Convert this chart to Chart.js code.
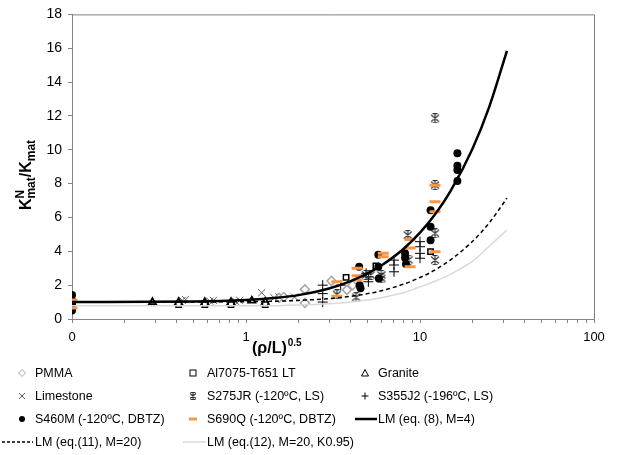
<!DOCTYPE html>
<html><head><meta charset="utf-8">
<script src="https://cdn.jsdelivr.net/npm/chart.js@4/dist/chart.umd.min.js"></script>
<style>html,body{margin:0;padding:0;background:#fff}canvas{display:block}</style>
</head><body>
<canvas id="c" width="618" height="455"></canvas>
<script>
// ---- data ----
const xTickValues = [0.1,0.2,0.3,0.4,0.5,0.6,0.7,0.8,0.9,1,2,3,4,5,6,7,8,9,10,20,30,40,50,60,70,80,90,100];
const xTickLabels = {"0.1":"0","1":"1","10":"10","100":"100"};

const pmmaX = [1.55, 1.65, 2.18, 2.18, 3.1, 3.8, 4.1];
const pmmaY = [1.25, 1.3, 1.75, 0.95, 2.25, 1.72, 2.0];

const alX = [0.41, 0.58, 0.82, 1.29, 3.76, 5.58, 11.5];
const alY = [0.85, 0.85, 0.85, 0.85, 2.46, 3.13, 3.98];

const graniteX = [0.29, 0.41, 0.58, 0.82, 1.08, 1.29];
const graniteY = [1.0, 1.0, 1.0, 1.0, 1.08, 1.02];

const limeX = [0.43, 0.45, 0.62, 0.65, 0.87, 0.92, 1.23, 1.45, 1.55, 1.63, 1.9];
const limeY = [1.1, 1.15, 1.05, 1.1, 1.05, 1.1, 1.55, 1.25, 1.3, 1.25, 1.3];

const s275X = [3.33, 4.3, 4.9, 5.2, 6.0, 6.0, 8.5, 8.6, 12.2, 12.2, 12.2, 12.2];
const s275Y = [1.45, 1.28, 2.6, 2.6, 2.6, 2.4, 4.96, 3.5, 11.86, 7.91, 5.06, 3.48];

const s355X = [2.76, 2.76, 2.76, 3.5, 4.9, 5.05, 5.05, 7.09, 7.09, 7.09, 10, 10, 10, 10];
const s355Y = [2.0, 1.5, 1.0, 2.0, 2.7, 2.5, 2.2, 3.48, 3.19, 2.79, 4.57, 4.27, 3.88, 3.59];

const s460X = [0.1, 0.1, 0.1, 0.1, 4.47, 4.5, 4.55, 5.76, 5.76, 5.8, 8.2, 8.2, 8.3, 11.5, 11.5, 11.5, 16.4, 16.4, 16.4, 16.4];
const s460Y = [1.42, 1.1, 0.85, 0.5, 3.09, 2.0, 1.81, 3.8, 3.09, 2.4, 3.88, 3.62, 3.25, 6.42, 5.45, 4.65, 9.79, 9.06, 8.8, 8.15];

const s690X = [0.1, 0.1, 3.33, 3.33, 4.35, 4.35, 4.35, 6.15, 6.15, 8.77, 8.77, 8.77, 12.2, 12.2, 12.2, 12.2];
const s690Y = [1.12, 0.65, 2.2, 1.35, 3.0, 2.55, 2.3, 3.88, 3.68, 4.7, 4.2, 3.09, 7.9, 6.93, 6.34, 3.97];

const lmX   = [0.1, 0.5, 1, 1.5, 2, 3, 4, 5, 6, 8, 10, 12, 15, 20, 25, 31.6];
const lm8Y  = [1.0, 1.03, 1.12, 1.25, 1.41, 1.80, 2.24, 2.69, 3.16, 4.12, 5.10, 6.08, 7.57, 10.05, 12.54, 15.85];
const lm11Y = [1.0, 1.01, 1.02, 1.05, 1.10, 1.20, 1.34, 1.50, 1.67, 2.05, 2.45, 2.86, 3.50, 4.58, 5.68, 7.14];
const lm12Y = [0.78, 0.78, 0.78, 0.79, 0.82, 0.9, 1.0, 1.12, 1.26, 1.55, 1.9, 2.2, 2.65, 3.4, 4.3, 5.26];

const seriesNames = ["PMMA","Al7075-T651 LT","Granite","Limestone","S275JR (-120ºC, LS)","S355J2 (-196ºC, LS)",
  "S460M (-120ºC, DBTZ)","S690Q (-120ºC, DBTZ)","LM (eq. (8), M=4)","LM (eq.(11), M=20)","LM (eq.(12), M=20, K0.95)"];

// ---- helpers ----
const pts = (xs, ys) => xs.map((x, i) => ({x, y: ys[i]}));
const FONT = "'Liberation Sans', Arial, sans-serif";

function starCanvas(size, color){
  const c = document.createElement('canvas');
  c.width = size; c.height = size;
  const g = c.getContext('2d');
  g.strokeStyle = color; g.lineWidth = 1.1;
  const s = size, m = s/2;
  g.beginPath();
  g.moveTo(1,1.5); g.lineTo(s-1,s-1.5);
  g.moveTo(s-1,1.5); g.lineTo(1,s-1.5);
  g.moveTo(m,0.5); g.lineTo(m,s-0.5);
  g.moveTo(m-2.5,0.5); g.lineTo(m+2.5,0.5);
  g.moveTo(m-2.5,s-0.5); g.lineTo(m+2.5,s-0.5);
  g.stroke();
  return c;
}
const starImg = starCanvas(10, '#333333');
const starImgSmall = starCanvas(8, '#333333');

const ORANGE = '#f79646';

const datasets = [
  {label: seriesNames[8], data: pts(lmX, lm8Y), showLine: true, borderColor: '#000', borderWidth: 2.5, pointRadius: 0, cubicInterpolationMode: 'monotone', order: 0},
  {label: seriesNames[9], data: pts(lmX, lm11Y), showLine: true, borderColor: '#000', borderWidth: 1.5, borderDash: [4,3], pointRadius: 0, cubicInterpolationMode: 'monotone', order: 1},
  {label: seriesNames[10], data: pts(lmX, lm12Y), showLine: true, borderColor: '#d9d9d9', borderWidth: 1.5, pointRadius: 0, cubicInterpolationMode: 'monotone', order: 2},
  {label: seriesNames[0], data: pts(pmmaX, pmmaY), pointStyle: 'rectRot', pointRadius: 4.5, borderColor: '#a6a6a6', backgroundColor: '#fff', borderWidth: 1.5, order: 5},
  {label: seriesNames[1], data: pts(alX, alY), pointStyle: 'rect', pointRadius: 3.8, borderColor: '#000', backgroundColor: '#fff', borderWidth: 1.5, order: 5},
  {label: seriesNames[2], data: pts(graniteX, graniteY), pointStyle: 'triangle', pointRadius: 4, borderColor: '#000', backgroundColor: '#fff', borderWidth: 1.8, order: 5},
  {label: seriesNames[3], data: pts(limeX, limeY), pointStyle: 'crossRot', pointRadius: 5, borderColor: '#595959', borderWidth: 1, order: 5},
  {label: seriesNames[4], data: pts(s275X, s275Y), pointStyle: starImg, pointRadius: 5, borderColor: '#333', order: 5},
  {label: seriesNames[5], data: pts(s355X, s355Y), pointStyle: 'cross', pointRadius: 5, borderColor: '#000', borderWidth: 1, order: 5},
  {label: seriesNames[6], data: pts(s460X, s460Y), pointStyle: 'circle', pointRadius: 4, borderColor: '#000', backgroundColor: '#000', borderWidth: 0, order: 4},
  {label: seriesNames[7], data: pts(s690X, s690Y), pointStyle: 'line', pointRadius: 5.5, borderColor: ORANGE, borderWidth: 3, order: 3}
];

function drawMarker(g, kind, x, y){
  g.save();
  g.beginPath();
  if (kind === 'diamond'){
    g.strokeStyle = '#a6a6a6'; g.lineWidth = 1; g.fillStyle = '#fff';
    g.moveTo(x, y-3.5); g.lineTo(x+3.5, y); g.lineTo(x, y+3.5); g.lineTo(x-3.5, y); g.closePath(); g.fill(); g.stroke();
  } else if (kind === 'square'){
    g.strokeStyle = '#000'; g.lineWidth = 1; g.strokeRect(x-3, y-3, 6, 6);
  } else if (kind === 'triangle'){
    g.strokeStyle = '#000'; g.lineWidth = 1;
    g.moveTo(x, y-3.5); g.lineTo(x+3.5, y+3); g.lineTo(x-3.5, y+3); g.closePath(); g.stroke();
  } else if (kind === 'x'){
    g.strokeStyle = '#595959'; g.lineWidth = 1;
    g.moveTo(x-3, y-3); g.lineTo(x+3, y+3); g.moveTo(x+3, y-3); g.lineTo(x-3, y+3); g.stroke();
  } else if (kind === 'star'){
    g.drawImage(starImgSmall, x-4, y-4);
  } else if (kind === 'plus'){
    g.strokeStyle = '#000'; g.lineWidth = 1;
    g.moveTo(x-3.5, y); g.lineTo(x+3.5, y); g.moveTo(x, y-3.5); g.lineTo(x, y+3.5); g.stroke();
  } else if (kind === 'dot'){
    g.fillStyle = '#000'; g.arc(x, y, 3, 0, Math.PI*2); g.fill();
  } else if (kind === 'dash'){
    g.strokeStyle = ORANGE; g.lineWidth = 3; g.moveTo(x-4, y); g.lineTo(x+4, y); g.stroke();
  }
  g.restore();
}

const legendItems = [
  {kind: 'diamond', col: 0, row: 0, name: seriesNames[0]},
  {kind: 'square', col: 1, row: 0, name: seriesNames[1]},
  {kind: 'triangle', col: 2, row: 0, name: seriesNames[2]},
  {kind: 'x', col: 0, row: 1, name: seriesNames[3]},
  {kind: 'star', col: 1, row: 1, name: seriesNames[4]},
  {kind: 'plus', col: 2, row: 1, name: seriesNames[5]},
  {kind: 'dot', col: 0, row: 2, name: seriesNames[6]},
  {kind: 'dash', col: 1, row: 2, name: seriesNames[7]},
  {kind: 'solid', col: 2, row: 2, name: seriesNames[8]},
  {kind: 'dashed', col: 0, row: 3, name: seriesNames[9]},
  {kind: 'gray', col: 1, row: 3, name: seriesNames[10]}
];

const extras = {
  id: 'extras',
  afterDraw(chart){
    const g = chart.ctx;
    const a = chart.chartArea;
    g.save();
    // plot border top/right
    g.strokeStyle = '#7f7f7f'; g.lineWidth = 1;
    g.beginPath();
    g.moveTo(a.left, a.top + 0.5); g.lineTo(a.right + 0.5, a.top + 0.5); g.lineTo(a.right + 0.5, a.bottom);
    g.stroke();

    // x title
    g.fillStyle = '#000';
    g.textBaseline = 'alphabetic';
    g.font = 'bold 16px ' + FONT;
    const t1 = '(ρ/L)';
    const tx = 252, ty = 353;
    g.fillText(t1, tx, ty);
    const w1 = g.measureText(t1).width;
    g.font = 'bold 10px ' + FONT;
    g.fillText('0.5', tx + w1 + 1, ty - 7);

    // y title (rotated)
    g.save();
    g.translate(31, 175);
    g.rotate(-Math.PI/2);
    const big = 'bold 16px ' + FONT, small = 'bold 12px ' + FONT;
    g.font = big; const wK = g.measureText('K').width, wSK = g.measureText('/K').width;
    g.font = small; const wN = g.measureText('N').width, wM = g.measureText('mat').width;
    const total = wK + Math.max(wN, wM) + wSK + wM;
    let cx = -total/2;
    g.font = big; g.fillText('K', cx, 0); cx += wK;
    g.font = small; g.fillText('N', cx, -7); g.fillText('mat', cx, 4); cx += Math.max(wN, wM);
    g.font = big; g.fillText('/K', cx, 0); cx += wSK;
    g.font = small; g.fillText('mat', cx, 4);
    g.restore();

    // legend
    const colMarker = [22, 193, 365];
    const colText = [35, 207, 378];
    const rowY = [373, 396, 419, 442];
    g.font = '12.5px ' + FONT;
    g.textBaseline = 'middle';
    legendItems.forEach(it => {
      const y = rowY[it.row];
      const xm = colMarker[it.col];
      if (it.kind === 'solid' || it.kind === 'dashed' || it.kind === 'gray'){
        g.save();
        g.beginPath();
        if (it.kind === 'solid'){ g.strokeStyle = '#000'; g.lineWidth = 2.5; g.moveTo(355, y); g.lineTo(377, y); }
        if (it.kind === 'dashed'){ g.strokeStyle = '#000'; g.lineWidth = 1.3; g.setLineDash([3,2]); g.moveTo(2, y); g.lineTo(33, y); }
        if (it.kind === 'gray'){ g.strokeStyle = '#d9d9d9'; g.lineWidth = 1.5; g.moveTo(183, y); g.lineTo(206, y); }
        g.stroke();
        g.restore();
      } else {
        drawMarker(g, it.kind, xm, y);
      }
      g.fillStyle = '#000';
      g.fillText(it.name, colText[it.col], y + 1);
    });
    g.restore();
  }
};

Chart.defaults.font.family = FONT;
Chart.defaults.color = '#000';

new Chart(document.getElementById('c'), {
  type: 'scatter',
  data: {datasets},
  options: {
    responsive: false,
    animation: false,
    events: [],
    layout: {padding: {top: 14, right: 24, left: 0, bottom: 0}},
    plugins: {legend: {display: false}, tooltip: {enabled: false}},
    scales: {
      x: {
        type: 'logarithmic', min: 0.1, max: 100,
        afterBuildTicks: s => { s.ticks = xTickValues.map(v => ({value: v})); },
        afterFit: s => { s.height = 136; },
        ticks: {
          autoSkip: false, maxRotation: 0, minRotation: 0, padding: 7,
          font: {size: 13}, color: '#000',
          callback: v => {
            for (const k in xTickLabels) { if (Math.abs(Number(k) - v) < 1e-9 * Math.max(1, v)) return xTickLabels[k]; }
            return '';
          }
        },
        grid: {display: true, drawOnChartArea: false, drawTicks: true, tickLength: 4, color: '#868686'},
        border: {display: true, color: '#868686', width: 1}
      },
      y: {
        min: 0, max: 18,
        afterFit: s => { s.width = 72; },
        ticks: {stepSize: 2, padding: 6, font: {size: 14}, color: '#000'},
        grid: {display: true, drawOnChartArea: false, drawTicks: true, tickLength: 4, color: '#868686'},
        border: {display: true, color: '#868686', width: 1}
      }
    }
  },
  plugins: [extras]
});
</script>
</body></html>
